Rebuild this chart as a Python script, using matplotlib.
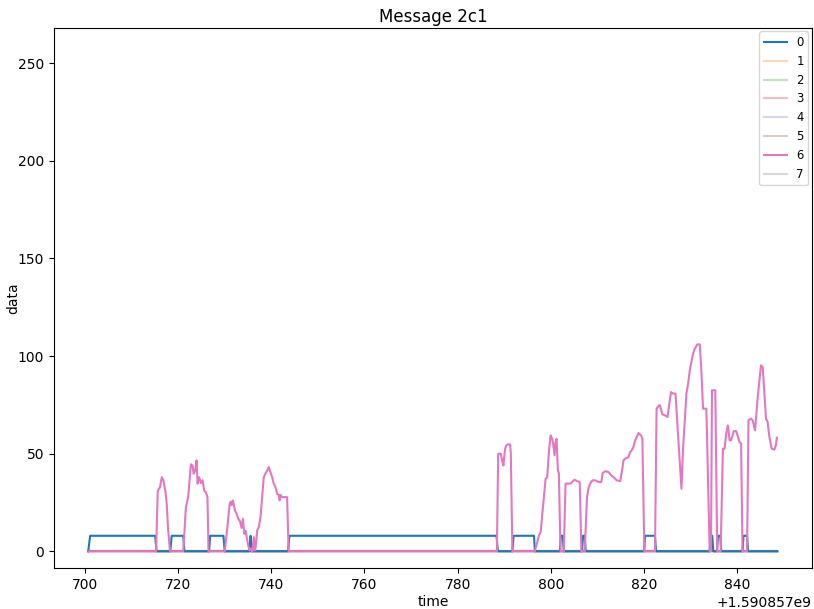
import matplotlib
matplotlib.use("Agg")
import matplotlib.pyplot as plt
import numpy as np

t0 = 1590857000

# series 0: on/off signal (0 or 8)
t_s0 = [700.73, 701.15, 715.09, 715.41, 718.35, 718.65, 721.13, 721.38,
        726.68, 726.89, 729.75, 730.03, 735.36, 735.58, 735.79, 743.62,
        743.90, 788.35, 788.65, 791.76, 792.02, 796.39, 796.60, 801.94,
        802.16, 802.58, 802.79, 806.70, 806.91, 807.28, 807.49, 820.02,
        820.23, 822.36, 822.58, 834.10, 834.31, 834.65, 834.87, 835.66,
        835.87, 836.36, 836.58, 841.14, 841.36, 842.12, 842.34, 848.65]
v_s0 = [0, 8, 8, 0, 0, 8, 8, 0,
        0, 8, 8, 0, 0, 8, 0, 0,
        8, 8, 0, 0, 8, 8, 0, 0,
        8, 8, 0, 0, 8, 8, 0, 0,
        8, 8, 0, 0, 8, 8, 0, 0,
        8, 8, 0, 0, 8, 8, 0, 0]

# series 6
t_s6 = [700.73, 715.30, 715.66, 716.15, 716.52, 716.86, 717.29, 717.58, 717.86, 718.29,
        721.13, 721.70, 722.19, 722.77, 723.13, 723.35, 723.69, 723.99, 724.20, 724.54,
        724.90, 725.27, 725.61, 725.97, 726.33, 726.55,
        730.03, 730.60, 731.09, 731.30, 731.52, 731.80, 732.22, 732.52, 732.95, 733.29,
        733.65, 733.93, 734.23, 734.51, 734.87, 735.08, 735.36, 735.64, 735.94, 736.28,
        736.49, 736.64, 737.00, 737.34, 737.71, 738.07, 738.41, 738.77, 739.14, 739.48,
        739.84, 740.20, 740.55, 740.91, 741.27, 741.61, 741.83, 741.98, 742.34, 743.41,
        743.75,
        788.43, 788.71, 789.29, 789.63, 789.84, 790.14, 790.35, 790.70, 791.27, 791.42,
        791.76,
        796.54, 797.10, 797.46, 797.82, 798.38, 798.89, 799.23, 799.59, 799.95, 800.30,
        800.51, 800.81, 801.02, 801.24, 801.52, 801.73, 802.09,
        802.79, 803.16, 804.22, 804.57, 805.08, 805.63, 806.21, 806.57,
        807.28, 807.77, 808.13, 808.62, 808.98, 809.56, 810.26, 810.84, 811.12, 811.70,
        812.40, 812.98, 813.47, 814.17, 814.90, 815.24, 815.60, 815.96, 816.67, 817.03,
        817.37, 817.73, 818.10, 818.44, 818.80, 819.37, 819.65, 820.08,
        822.36, 822.70, 823.22, 823.43, 823.92, 824.50, 825.05, 825.78, 826.27, 826.76,
        827.34, 827.70, 828.04, 828.40, 829.11, 829.47, 829.83, 830.17, 830.54, 830.90,
        831.46, 831.97, 832.31, 832.67, 833.38, 834.10,
        834.38, 834.59, 835.30, 835.72,
        836.45, 836.94, 837.30, 837.64, 838.00, 838.37, 838.71, 839.28, 839.78, 840.14,
        840.50, 840.84, 841.14,
        842.12, 842.42, 842.98, 843.34, 843.83, 844.41, 844.77, 845.11, 845.48, 845.84,
        846.18, 846.54, 846.91, 847.40, 847.97, 848.31, 848.52]
v_s6 = [0, 0, 31, 33, 38, 36.4, 31, 24.6, 12, 0,
        0, 22.7, 27.8, 44.6, 44, 39.8, 41.5, 46.6, 34.7, 38,
        35, 36.5, 31.2, 30.3, 27.8, 0,
        0, 12.5, 24.4, 25.5, 23.7, 26.1, 21, 19.5, 16.7, 15.5,
        12, 16.7, 9, 10.5, 5.6, 3, 0.5, 1.5, 0, 7.3,
        0.5, 1.5, 10.8, 12.5, 17.6, 27.8, 38, 39.8, 41.5, 43.2,
        40.6, 38, 34.7, 33, 29.5, 29, 26.1, 29, 27.8, 27.8,
        0,
        0, 50, 50, 45.8, 44, 51.7, 53.8, 54.8, 54.8, 50,
        0,
        0, 4.8, 8.2, 9.9, 24.4, 37.2, 38, 50.9, 59.4, 57.7,
        55, 49.2, 56, 57.7, 41.5, 40, 0,
        0, 34.7, 34.7, 35.5, 36.7, 36, 35.5, 0,
        0, 27.8, 32.9, 35.5, 36.4, 36.4, 35.5, 35.5, 40.1, 41.1,
        40.6, 38.9, 38, 36.4, 36, 40.6, 46.6, 47.5, 48.3, 50.9,
        51.7, 53.4, 56.9, 58.6, 60.6, 59.4, 57.7, 0,
        0, 73.1, 74.8, 74.8, 70.2, 69.7, 68.8, 81.6, 80.8, 80.8,
        58.6, 44.9, 32.1, 53.4, 80.8, 85.9, 92.7, 97, 101.3, 103.8,
        106, 106, 92.7, 73.1, 73.1, 0,
        0, 82.5, 82.5, 0,
        0, 52.6, 52.6, 60.3, 64.5, 56.9, 56.9, 61.6, 61.6, 58.9,
        56, 55.2, 0,
        0, 67.1, 68, 67, 62, 79, 87.6, 95.3, 94.4, 80.8,
        68, 66.2, 58.6, 52.6, 52.1, 54.3, 58.2]

# the other channels stay at zero and are drawn faded
t_flat = [700.73, 848.65]
v_flat = [0, 0]

fig, ax = plt.subplots(figsize=(8.14, 6.09), dpi=100)
fig.subplots_adjust(left=0.066, right=0.9975, top=0.954, bottom=0.0673)

for i in range(8):
    if i == 0:
        ax.plot(np.array(t_s0) + t0, v_s0, color="C0", label="0")
    elif i == 6:
        ax.plot(np.array(t_s6) + t0, v_s6, color="C6", label="6")
    else:
        ax.plot(np.array(t_flat) + t0, v_flat, color="C%d" % i, alpha=0.3,
                label=str(i), zorder=1)

ax.set_ylim(-8.5, 268)
ax.set_title("Message 2c1", pad=4)
ax.set_xlabel("time", labelpad=2.5)
ax.set_ylabel("data")
ax.yaxis.set_label_coords(-0.0435, 0.5)
ax.legend(loc="upper right", fontsize="small", borderaxespad=0.3)

plt.savefig("out.png")
